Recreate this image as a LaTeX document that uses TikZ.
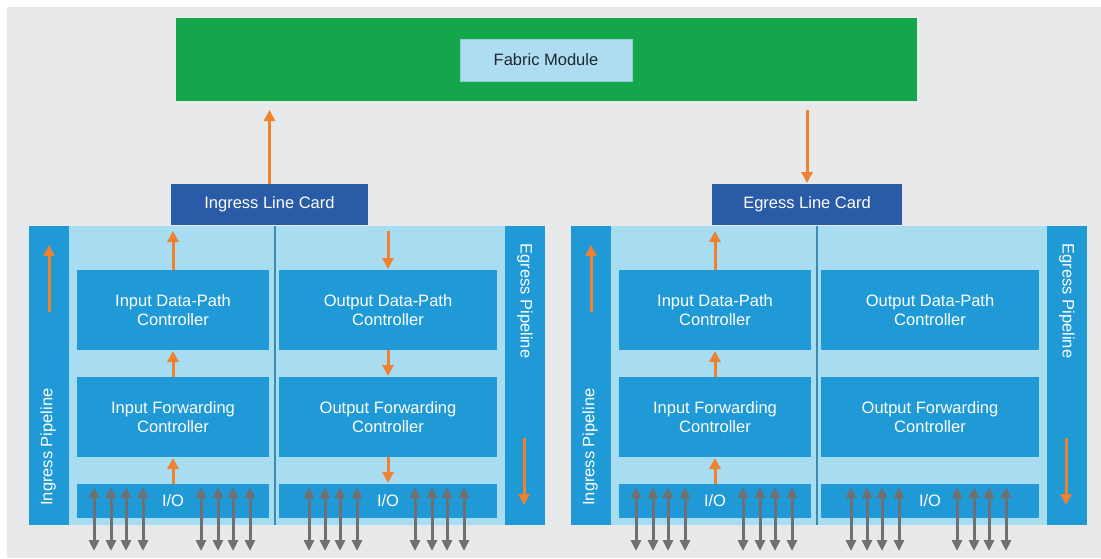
\documentclass[tikz,border=0pt]{standalone}
\usepackage{fontspec}
\setmainfont{Liberation Sans}
\usetikzlibrary{arrows.meta}
\definecolor{bggray}{HTML}{E8E9EB}
\definecolor{fabricgreen}{HTML}{14A64A}
\definecolor{fabriclabel}{HTML}{AEDCF0}
\definecolor{carddark}{HTML}{2A5BA7}
\definecolor{midblue}{HTML}{1F9AD6}
\definecolor{paleblue}{HTML}{A8DCF0}
\definecolor{flowor}{HTML}{F0812F}
\definecolor{iogray}{HTML}{6F7072}
\definecolor{darktext}{HTML}{1E2833}
\tikzset{
    box/.style={fill=midblue, text=white, inner sep=0pt, outer sep=0pt, align=center,
        font=\fontsize{16.5}{19.5}\selectfont},
    bar/.style={fill=midblue, inner sep=0pt, outer sep=0pt, minimum width=40, minimum height=299},
    barlabel/.style={text=white, inner sep=0pt, font=\fontsize{16.5}{19.5}\selectfont},
    panel/.style={fill=paleblue, inner sep=0pt, outer sep=0pt},
    linecard/.style={fill=carddark, text=white, inner sep=0pt, outer sep=0pt,
        minimum height=41, font=\fontsize{16.5}{19.5}\selectfont},
    divider/.style={draw=midblue!70!paleblue!80!black, line width=1.4pt},
    flow/.style={draw=flowor, line width=3pt, -{Triangle[length=11pt,width=11pt]}},
    iolink/.style={draw=iogray, line width=3pt,
        {Triangle[length=11pt,width=10pt]}-{Triangle[length=11pt,width=10pt]}}
}
\begin{document}
\begin{tikzpicture}[x=1pt,y=-1pt]
            \useasboundingbox (0,0) rectangle (1101,558);
            \fill[white] (0,0) rectangle (1101,558);
            \fill[bggray] (7,7) rectangle (1101,558);

            \node[fill=fabricgreen, inner sep=0pt, outer sep=0pt, minimum width=741, minimum height=83] (fabric) at (546.5,59.5) {};
            \node[fill=fabriclabel, draw=fabriclabel!80!fabricgreen, text=darktext, inner sep=0pt, minimum width=172, minimum height=42,
                font=\fontsize{16.5}{19.5}\selectfont] (fablabel) at (546,60) {Fabric Module};

            \node[linecard, minimum width=197] (ilc) at (269.5,204.5) {Ingress Line Card};
            \node[linecard, minimum width=190] (elc) at (807,204.5) {Egress Line Card};

            \foreach \c/\dx in {l/0,r/542} {
                \node[panel, minimum width=515, minimum height=299] (card\c) at (286.5+\dx,375.5) {};
                \node[bar] (ipipe\c) at (49+\dx,375.5) {};
                \node[bar] (epipe\c) at (524.5+\dx,375.5) {};
                \node[barlabel, rotate=90] at (48+\dx,447) {Ingress Pipeline};
                \node[barlabel, rotate=-90] at (525+\dx,301) {Egress Pipeline};
                \draw[divider] (275+\dx,226) -- (275+\dx,525);

                \node[box, minimum width=192, minimum height=80] (idp\c) at (173+\dx,310) {Input Data-Path\\Controller};
                \node[box, minimum width=192, minimum height=80] (ifw\c) at (173+\dx,417) {Input Forwarding\\Controller};
                \node[box, minimum width=192, minimum height=34] (io\c) at (173+\dx,501) {I/O};
                \node[box, minimum width=218, minimum height=80] (odp\c) at (388+\dx,310) {Output Data-Path\\Controller};
                \node[box, minimum width=218, minimum height=80] (ofw\c) at (388+\dx,417) {Output Forwarding\\Controller};
                \node[box, minimum width=218, minimum height=34] (oo\c) at (388+\dx,501) {I/O};

                \foreach \o in {17,34,49,66,124,141,156,173} {
                    \draw[iolink] (77+\dx+\o,487) -- (77+\dx+\o,551);
                }
                \foreach \o in {30,46,61,78,136,153,168,185} {
                    \draw[iolink] (279+\dx+\o,487) -- (279+\dx+\o,551);
                }

                \draw[flow] (49+\dx,312) -- (49+\dx,245);
                \draw[flow] (524+\dx,438) -- (524+\dx,505);
            }

            \draw[flow, shorten >=9pt] (ilc.north) -- (ilc.north |- fabric.south);
            \draw[flow, shorten <=9pt, shorten >=1pt] (fabric.south -| elc.north) -- (elc.north);

            \draw[flow, shorten >=1pt] (iol.north) -- (ifwl.south);
            \draw[flow, shorten >=1pt] (ifwl.north) -- (idpl.south);
            \draw[flow, shorten >=6pt] (idpl.north) -- (idpl.north |- ilc.south);
            \draw[flow, shorten <=6pt, shorten >=1pt] (odpl.north |- ilc.south) -- (odpl.north);
            \draw[flow, shorten >=1pt] (odpl.south) -- (ofwl.north);
            \draw[flow, shorten >=1pt] (ofwl.south) -- (ool.north);

            \draw[flow, shorten >=1pt] (ior.north) -- (ifwr.south);
            \draw[flow, shorten >=1pt] (ifwr.north) -- (idpr.south);
            \draw[flow, shorten >=6pt] (idpr.north) -- (idpr.north |- elc.south);
        \end{tikzpicture}
\end{document}
